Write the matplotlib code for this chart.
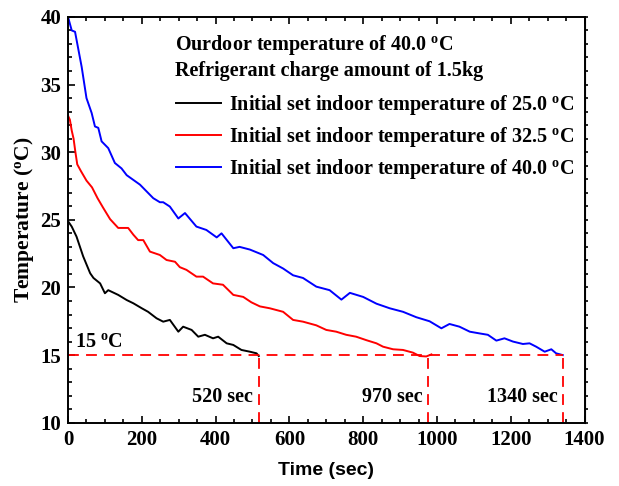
import matplotlib
matplotlib.use("Agg")
import matplotlib.pyplot as plt

plt.rcParams['font.family'] = ['Liberation Serif', 'DejaVu Serif']
plt.rcParams['font.weight'] = 'bold'
plt.rcParams['mathtext.fontset'] = 'custom'
plt.rcParams['mathtext.rm'] = 'Liberation Serif:bold'
plt.rcParams['mathtext.it'] = 'Liberation Serif:bold'
plt.rcParams['mathtext.bf'] = 'Liberation Serif:bold'

# ---- data ----
t_25 = [0, 10, 23, 41, 60, 69, 87, 100, 109, 136, 159, 177, 200, 217, 240, 258,
        276, 299, 312, 335, 353, 371, 393, 407, 430, 448, 470, 493, 511, 517]
T_25 = [24.9, 24.5, 23.76, 22.3, 21.05, 20.7, 20.3, 19.57, 19.8, 19.45, 19.07,
        18.83, 18.46, 18.2, 17.72, 17.47, 17.6, 16.73, 17.1, 16.86, 16.36, 16.5,
        16.24, 16.36, 15.87, 15.75, 15.38, 15.25, 15.13, 14.93]

t_325 = [0, 5, 10, 15, 20, 25, 35, 50, 65, 80, 95, 114, 136, 163, 177, 190, 204,
         222, 249, 267, 290, 303, 321, 348, 366, 393, 420, 448, 475, 497, 520,
         547, 583, 610, 637, 673, 700, 727, 754, 781, 809, 836, 854, 881, 908,
         935, 953, 971, 985]
T_325 = [32.7, 32.4, 31.6, 31.0, 30.0, 29.1, 28.6, 27.9, 27.4, 26.6, 25.9, 25.05,
         24.4, 24.4, 23.9, 23.5, 23.5, 22.65, 22.4, 22.03, 21.9, 21.5, 21.3, 20.8,
         20.8, 20.3, 20.2, 19.45, 19.3, 18.9, 18.6, 18.46, 18.2, 17.6, 17.47, 17.2,
         16.86, 16.73, 16.5, 16.36, 16.1, 15.87, 15.62, 15.43, 15.38, 15.18, 14.93,
         14.9, 15.05]

t_40 = [0, 10, 19, 28, 37, 50, 64, 73, 82, 91, 109, 127, 145, 159, 177, 195, 213,
        231, 249, 258, 276, 299, 317, 348, 375, 403, 416, 448, 465, 493, 529, 556,
        583, 610, 637, 673, 709, 741, 764, 800, 836, 872, 908, 944, 980, 1012,
        1034, 1061, 1089, 1116, 1138, 1161, 1183, 1206, 1233, 1251, 1269, 1292,
        1310, 1323, 1341]
T_40 = [40.0, 39.0, 38.9, 37.6, 36.3, 34.0, 32.9, 31.9, 31.8, 30.8, 30.3, 29.2,
        28.8, 28.3, 27.95, 27.6, 27.1, 26.6, 26.3, 26.3, 25.98, 25.1, 25.5, 24.5,
        24.25, 23.7, 24.0, 22.9, 23.0, 22.8, 22.4, 21.8, 21.4, 20.9, 20.7, 20.06,
        19.8, 19.1, 19.6, 19.3, 18.8, 18.46, 18.2, 17.8, 17.5, 16.98, 17.3, 17.1,
        16.73, 16.6, 16.5, 16.07, 16.24, 16.0, 15.82, 15.87, 15.62, 15.25, 15.43,
        15.13, 15.0]

series_labels = [
    "Initial set indoor temperature of 25.0 $^{\\rm o}$C",
    "Initial set indoor temperature of 32.5 $^{\\rm o}$C",
    "Initial set indoor temperature of 40.0 $^{\\rm o}$C",
]
series_colors = ["black", "red", "blue"]
header_lines = ["Ourdoor temperature of 40.0 $^{\\rm o}$C",
                "Refrigerant charge amount of 1.5kg"]
target_temp = 15
cutoff_times = [517, 975, 1342]
cutoff_labels = ["520 sec", "970 sec", "1340 sec"]

fig = plt.figure(figsize=(6.19, 4.86), dpi=100)
ax = fig.add_axes([0.1099, 0.1302, 0.8344, 0.835])

for t, T, c, lab in zip([t_25, t_325, t_40], [T_25, T_325, T_40],
                        series_colors, series_labels):
    ax.plot(t, T, color=c, lw=1.4, label=lab)

# dashed guide lines
ax.plot([0, cutoff_times[-1]], [target_temp, target_temp], color='red',
        lw=1.3, ls=(0, (6, 4)))
for xc, lab in zip(cutoff_times, cutoff_labels):
    ax.plot([xc, xc], [10, target_temp], color='red', lw=1.3, ls=(0, (6, 4)))
    ax.annotate(lab, xy=(xc, 11.9), xytext=(-4, 0), textcoords='offset points',
                ha='right', va='center', fontsize=14.5, fontweight='bold')
ax.text(18, 15.2, "15 $^{\\rm o}$C", ha='left', va='bottom', fontsize=14.5,
        fontweight='bold')

ax.set_xlim(0, 1400)
ax.set_ylim(10, 40)
ax.set_xticks(range(0, 1401, 200))
ax.set_xticks(range(0, 1401, 50), minor=True)
ax.set_yticks(range(10, 41, 5))
ax.set_yticks(range(10, 41, 1), minor=True)
ax.tick_params(which='both', direction='in', top=True, right=False,
               labelsize=15, width=1.2)
ax.tick_params(which='major', length=5, pad=5)
ax.tick_params(which='minor', length=3)
for lbl in ax.get_xticklabels() + ax.get_yticklabels():
    lbl.set_fontweight('bold')
for s in ax.spines.values():
    s.set_linewidth(1.4)

sec = ax.secondary_yaxis('right')
sec.set_yticks(range(10, 41, 1))
sec.tick_params(direction='out', length=2.5, width=1.2, labelright=False)

ax.set_xlabel("Time (sec)", family=['Liberation Sans', 'DejaVu Sans'],
              fontsize=14, fontweight='bold', labelpad=9)
ax.set_ylabel("Temperature ($^{\\rm o}$C)", fontsize=15.5, fontweight='bold',
              labelpad=3)

# header text
ax.text(0.207, 0.932, header_lines[0], transform=ax.transAxes, fontsize=14.5,
        fontweight='bold', va='center', ha='left')
ax.text(0.207, 0.866, header_lines[1], transform=ax.transAxes, fontsize=14.5,
        fontweight='bold', va='center', ha='left')

leg = ax.legend(loc='upper left', bbox_to_anchor=(0.194, 0.833), frameon=False,
                fontsize=14.5, handlelength=2.23, handletextpad=0.4,
                labelspacing=0.41, borderaxespad=0)
for txt in leg.get_texts():
    txt.set_fontweight('bold')

fig.savefig("out.png", dpi=100)
